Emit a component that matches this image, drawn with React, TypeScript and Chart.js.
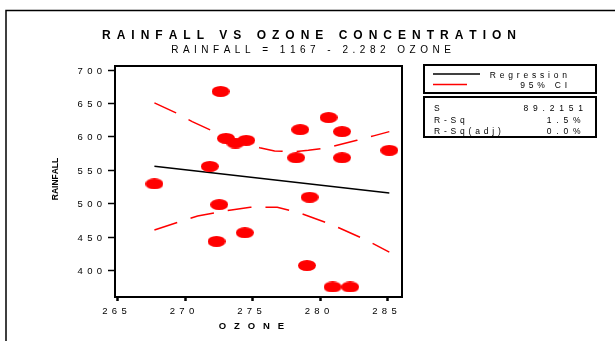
import React, { useEffect, useRef } from "react";
import { Chart, registerables } from "chart.js";

Chart.register(...registerables);

// Observations: ozone concentration vs rainfall
const ozone = [272.6, 280.6, 278.5, 281.6, 273.0, 274.5, 273.7, 285.1, 278.2, 281.6, 271.8, 267.7, 279.2, 272.5, 274.4, 272.3, 279.0, 280.9, 282.2];
const rainfall = [668, 629, 611, 608, 598, 595, 591, 580, 569, 569, 556, 530, 510, 499, 457, 444, 408, 376, 376];

// Fitted regression: RAINFALL = intercept + slope * OZONE
const intercept = 1167;
const slope = -2.282;

// 95% confidence band
const ciUpperX = [267.7, 269.3, 270.5, 272.2, 273.5, 275.5, 276.6, 278.0, 279.1, 280.5, 282.7, 284.0, 285.1];
const ciUpperY = [651, 636, 623, 607, 597, 584, 579, 578, 580, 584, 595, 602, 608];
const ciLowerX = [267.7, 269.8, 270.9, 273.4, 274.8, 276.8, 278.4, 280.3, 281.4, 283.4, 285.1];
const ciLowerY = [461, 475, 482, 491, 495, 495, 487, 473, 464, 446, 428];

const xTicks = [265, 270, 275, 280, 285];
const yTicks = [400, 450, 500, 550, 600, 650, 700];

const legendLabels = ["Regression", "95% CI"];
const statLabels = ["S", "R-Sq", "R-Sq(adj)"];
const statValues = ["89.2151", "1.5%", "0.0%"];

const titleText = "RAINFALL VS OZONE CONCENTRATION";
const subtitleText = `RAINFALL = ${intercept} - ${Math.abs(slope)} OZONE`;
const xTitle = "OZONE";
const yTitle = "RAINFALL";

const FONT = "'Liberation Sans', Arial, sans-serif";
const RED = "#ff0000";

function drawSpaced(
  ctx: CanvasRenderingContext2D,
  text: string,
  x: number,
  y: number,
  ls: number,
  align: "left" | "center" | "right"
) {
  const chars = Array.from(text);
  const widths = chars.map((c) => ctx.measureText(c).width);
  const total = widths.reduce((a, b) => a + b, 0) + ls * (chars.length - 1);
  let cx = align === "left" ? x : align === "center" ? x - total / 2 : x - total;
  ctx.textAlign = "left";
  chars.forEach((c, i) => {
    ctx.fillText(c, cx, y);
    cx += widths[i] + ls;
  });
}

function makeEllipse(w: number, h: number, color: string) {
  const c = document.createElement("canvas");
  c.width = w;
  c.height = h;
  const g = c.getContext("2d")!;
  g.fillStyle = color;
  g.beginPath();
  g.ellipse(w / 2, h / 2, w / 2, h / 2, 0, 0, Math.PI * 2);
  g.fill();
  return c;
}

const decorations = {
  id: "decorations",
  beforeDatasetsDraw(chart: any) {
    const { ctx, chartArea } = chart;
    ctx.save();
    ctx.strokeStyle = "#000";
    ctx.lineWidth = 2;
    ctx.strokeRect(chartArea.left, chartArea.top, chartArea.right - chartArea.left, chartArea.bottom - chartArea.top);
    ctx.restore();
  },
  afterDraw(chart: any) {
    const { ctx } = chart;
    const xs = chart.scales.x;
    const ys = chart.scales.y;
    ctx.save();
    ctx.fillStyle = "#000";
    ctx.textBaseline = "alphabetic";

    // outer frame
    ctx.strokeStyle = "#000";
    ctx.lineWidth = 1.5;
    ctx.beginPath();
    ctx.moveTo(6, 341);
    ctx.lineTo(6, 10.5);
    ctx.lineTo(615, 10.5);
    ctx.stroke();

    // titles
    ctx.font = `bold 12px ${FONT}`;
    drawSpaced(ctx, titleText, 309, 38.5, 6.0, "center");
    ctx.font = `10px ${FONT}`;
    drawSpaced(ctx, subtitleText, 311, 53, 4.5, "center");

    // tick labels
    ctx.font = `9.5px ${FONT}`;
    yTicks.forEach((v) => {
      drawSpaced(ctx, String(v), 102, ys.getPixelForValue(v) + 3.5, 4.3, "right");
    });
    xTicks.forEach((v) => {
      drawSpaced(ctx, String(v), xs.getPixelForValue(v) - 3.5, 314, 4.3, "center");
    });

    // axis titles
    ctx.font = `bold 9.5px ${FONT}`;
    drawSpaced(ctx, xTitle, 251.5, 329, 7.9, "center");
    ctx.save();
    ctx.translate(55.5, 179);
    ctx.rotate(-Math.PI / 2);
    ctx.font = `bold 8.5px ${FONT}`;
    ctx.textBaseline = "middle";
    drawSpaced(ctx, yTitle, 0, 0, 0, "center");
    ctx.restore();

    // legend box
    ctx.lineWidth = 2;
    ctx.strokeRect(424, 65, 172, 28);
    ctx.lineWidth = 1.5;
    ctx.strokeStyle = "#000";
    ctx.beginPath();
    ctx.moveTo(433, 74);
    ctx.lineTo(480, 74);
    ctx.stroke();
    ctx.strokeStyle = RED;
    ctx.beginPath();
    ctx.moveTo(433, 84.5);
    ctx.lineTo(467, 84.5);
    ctx.stroke();
    ctx.font = `8.5px ${FONT}`;
    drawSpaced(ctx, legendLabels[0], 567, 78, 3.8, "right");
    drawSpaced(ctx, legendLabels[1], 567, 88.3, 3.8, "right");

    // statistics box
    ctx.strokeStyle = "#000";
    ctx.lineWidth = 2;
    ctx.strokeRect(424, 97, 172, 40);
    const rows = [110.7, 123, 134];
    statLabels.forEach((s, i) => {
      drawSpaced(ctx, s, 434, rows[i], 3.8, "left");
    });
    statValues.forEach((s, i) => {
      drawSpaced(ctx, s, i === 0 ? 583 : 580.5, rows[i], 4.8, "right");
    });
    ctx.restore();
  },
};

export default function App() {
  const canvasRef = useRef<HTMLCanvasElement | null>(null);

  useEffect(() => {
    const canvas = canvasRef.current;
    if (!canvas) return;

    const dot = makeEllipse(18, 11, RED);
    const xMin = Math.min(...ozone);
    const xMax = Math.max(...ozone);

    const chart = new Chart(canvas, {
      type: "scatter",
      data: {
        datasets: [
          {
            label: "Observations",
            data: ozone.map((x, i) => ({ x, y: rainfall[i] })),
            pointStyle: dot as any,
            pointRadius: 7,
            backgroundColor: RED,
            borderColor: RED,
          },
          {
            label: legendLabels[0],
            data: [xMin, xMax].map((x) => ({ x, y: intercept + slope * x })),
            showLine: true,
            borderColor: "#000",
            borderWidth: 1.5,
            pointRadius: 0,
          },
          {
            label: legendLabels[1],
            data: ciUpperX.map((x, i) => ({ x, y: ciUpperY[i] })),
            showLine: true,
            borderColor: RED,
            borderWidth: 1.5,
            borderDash: [24, 14],
            pointRadius: 0,
          },
          {
            label: legendLabels[1] + " lower",
            data: ciLowerX.map((x, i) => ({ x, y: ciLowerY[i] })),
            showLine: true,
            borderColor: RED,
            borderWidth: 1.5,
            borderDash: [24, 14],
            pointRadius: 0,
          },
        ],
      },
      options: {
        animation: false,
        responsive: false,
        events: [],
        layout: { autoPadding: false, padding: { left: 0, top: 66, right: 213, bottom: 0 } },
        plugins: { legend: { display: false }, tooltip: { enabled: false }, title: { display: false } },
        scales: {
          x: {
            type: "linear",
            min: 264.78,
            max: 286.04,
            afterBuildTicks: (s: any) => {
              s.ticks = xTicks.map((v) => ({ value: v }));
            },
            afterFit: (s: any) => {
              s.height = 44;
            },
            ticks: { display: false },
            border: { display: false },
            grid: {
              display: true,
              drawOnChartArea: false,
              drawTicks: true,
              tickLength: 4,
              tickWidth: 2.5,
              tickColor: "#000",
            },
          },
          y: {
            type: "linear",
            min: 361,
            max: 706,
            afterBuildTicks: (s: any) => {
              s.ticks = yTicks.map((v) => ({ value: v }));
            },
            afterFit: (s: any) => {
              s.width = 115;
            },
            ticks: { display: false },
            border: { display: false },
            grid: {
              display: true,
              drawOnChartArea: false,
              drawTicks: true,
              tickLength: 7,
              tickWidth: 1.5,
              tickColor: "#000",
            },
          },
        },
      },
      plugins: [decorations],
    });

    return () => chart.destroy();
  }, []);

  return (
    <div style={{ position: "fixed", left: 0, top: 0, width: 615, height: 341, background: "#fff" }}>
      <canvas ref={canvasRef} width={615} height={341} style={{ display: "block" }} />
    </div>
  );
}
